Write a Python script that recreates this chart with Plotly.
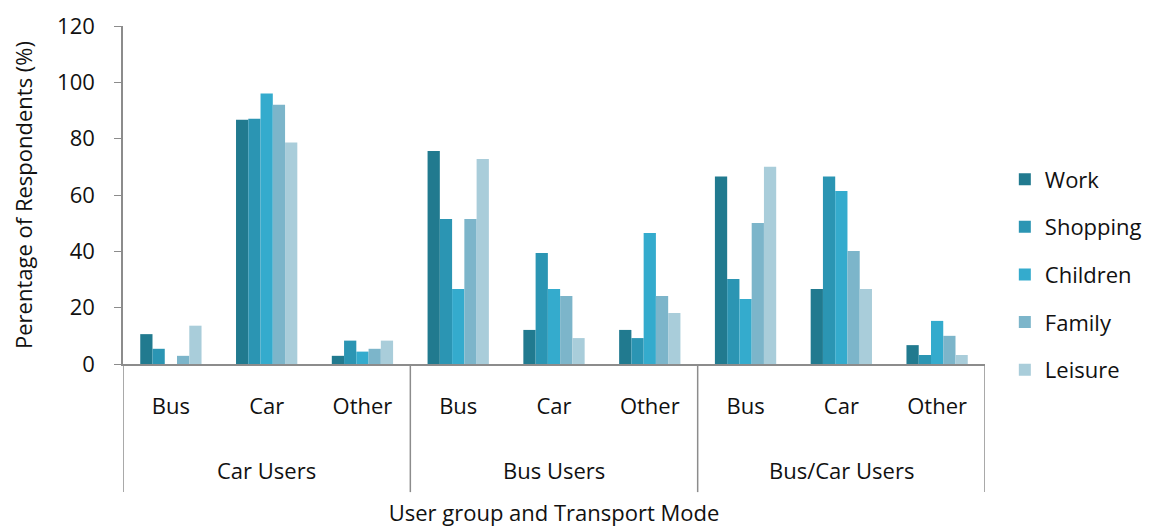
import plotly.graph_objects as go

groups = ["Car Users", "Bus Users", "Bus/Car Users"]
modes = ["Bus", "Car", "Other"]
series_names = ["Work", "Shopping", "Children", "Family", "Leisure"]

# values per series in order: Car Users (Bus, Car, Other), Bus Users (...), Bus/Car Users (...)
work = [10.6, 86.7, 2.9, 75.6, 12.1, 12.1, 66.6, 26.6, 6.7]
shopping = [5.4, 87.1, 8.3, 51.5, 39.4, 9.2, 30.2, 66.6, 3.2]
children = [0.0, 96.0, 4.4, 26.6, 26.6, 46.5, 23.1, 61.4, 15.3]
family = [2.9, 92.0, 5.4, 51.5, 24.1, 24.1, 50.1, 40.1, 10.0]
leisure = [13.6, 78.6, 8.3, 72.8, 9.2, 18.1, 70.0, 26.6, 3.2]

colors = ["#217a8f", "#2b95b3", "#34abcd", "#7cb5ca", "#a9cdda"]
y_ticks = [0, 20, 40, 60, 80, 100, 120]

x_pos = list(range(len(groups) * len(modes)))
x_text = [m for g in groups for m in modes]

FONT = "Open Sans"
FS = 22
TXT = "#111111"
LINE = "#8c8c8c"

fig = go.Figure()
for name, vals, col in zip(series_names, [work, shopping, children, family, leisure], colors):
    fig.add_trace(go.Bar(x=x_pos, y=vals, name=name, marker=dict(color=col, line=dict(width=0)),
                         legendgroup=name))

shapes = []
for i in range(len(groups) + 1):
    xb = i * len(modes) - 0.5
    shapes.append(dict(type="line", xref="x", yref="paper", x0=xb, x1=xb, y0=0, y1=-0.379,
                       line=dict(color=LINE, width=1.5)))

annotations = []
for i, g in enumerate(groups):
    annotations.append(dict(x=i * len(modes) + 1, y=-0.314, xref="x", yref="paper", text=g,
                            showarrow=False, font=dict(size=FS, color=TXT, family=FONT),
                            xanchor="center", yanchor="middle"))

fig.update_layout(
    width=1142, height=519,
    margin=dict(l=115, r=165, t=18, b=163, autoexpand=False),
    paper_bgcolor="white", plot_bgcolor="white",
    barmode="group", bargap=0.36, bargroupgap=0,
    font=dict(family=FONT, size=FS, color=TXT),
    shapes=shapes, annotations=annotations,
    showlegend=True,
    legend=dict(x=1.023, y=0.265, xanchor="left", yanchor="middle", traceorder="grouped",
                tracegroupgap=16, font=dict(size=FS, family=FONT, color=TXT),
                itemwidth=30, bgcolor="rgba(0,0,0,0)"),
    xaxis=dict(range=[-0.5, 8.5], tickmode="array", tickvals=x_pos, ticktext=x_text,
               showline=True, linecolor=LINE, linewidth=1.5, ticks="", showgrid=False,
               zeroline=False, ticklabelstandoff=22, automargin=False,
               tickfont=dict(size=FS, family=FONT, color=TXT),
               title=dict(text="User group and Transport Mode", standoff=88,
                          font=dict(size=FS, family=FONT, color=TXT))),
    yaxis=dict(range=[0, 120], tickmode="array", tickvals=y_ticks, showline=True,
               linecolor=LINE, linewidth=1.5, ticks="outside", ticklen=7, tickcolor=LINE,
               showgrid=False, zeroline=False, automargin=False, ticklabelstandoff=15,
               tickfont=dict(size=FS, family=FONT, color=TXT),
               title=dict(text="Perentage of Respondents (%)", standoff=22,
                          font=dict(size=FS, family=FONT, color=TXT))),
)

fig.write_html("out.html")
